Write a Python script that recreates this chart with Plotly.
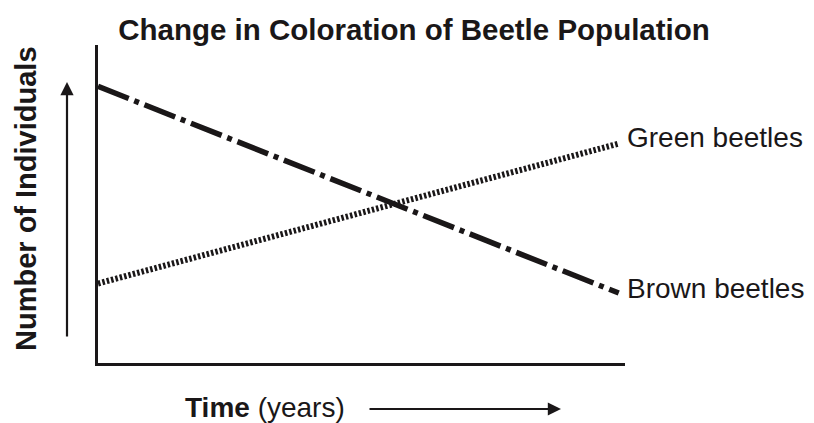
import plotly.graph_objects as go

# Data
time = [0, 10]
brown_beetles = [87, 22]
green_beetles = [25, 69]
series_names = ["Brown beetles", "Green beetles"]
title_text = "Change in Coloration of Beetle Population"
y_label = "Number of Individuals"

INK = "#1a1718"
FONT = "Liberation Sans, Arial, Helvetica, sans-serif"

OFF = 8  # page body margin in the browser
W, H = 814 - OFF, 423 - OFF
# plot area in screenshot pixels: x 98..625, y 45..363
L = 98 - OFF
T = 45 - OFF
R = W - (625 - OFF)
B = H - (363 - OFF)
PW, PH = W - L - R, H - T - B


def px_to_paper(x, y):
    # x, y are screenshot pixels
    return (x - OFF - L) / PW, (H - B - (y - OFF)) / PH


fig = go.Figure()
fig.add_trace(go.Scatter(
    x=time, y=brown_beetles, mode="lines", name=series_names[0],
    line=dict(color=INK, width=5.5, dash="33px,6px,5px,6px"),
    hoverinfo="skip"))
fig.add_trace(go.Scatter(
    x=time, y=green_beetles, mode="lines", name=series_names[1],
    line=dict(color=INK, width=6, dash="2.5px,2px"),
    hoverinfo="skip"))

LBL = 28
annotations = []
annotations.append(dict(x=time[-1], y=green_beetles[-1], xref="x", yref="y",
                        text=series_names[1], showarrow=False, xanchor="left",
                        yanchor="middle", xshift=6, yshift=6,
                        font=dict(family=FONT, size=LBL, color=INK)))
annotations.append(dict(x=time[-1], y=brown_beetles[-1], xref="x", yref="y",
                        text=series_names[0], showarrow=False, xanchor="left",
                        yanchor="middle", xshift=6, yshift=5,
                        font=dict(family=FONT, size=LBL, color=INK)))

# Y label
yx, yy = px_to_paper(26, 199)
annotations.append(dict(x=yx, y=yy, xref="paper", yref="paper",
                        text="<b>" + y_label + "</b>", showarrow=False,
                        textangle=-90, xanchor="center", yanchor="middle",
                        font=dict(family=FONT, size=29, color=INK)))
# Y arrow
ax_, ay_ = px_to_paper(67, 82)
annotations.append(dict(x=ax_, y=ay_, xref="paper", yref="paper", text="",
                        showarrow=True, ax=0, ay=256, axref="pixel", ayref="pixel",
                        arrowhead=2, arrowsize=1.2, arrowwidth=2.2, arrowcolor=INK))

# X label
xx, xy = px_to_paper(183, 407)
annotations.append(dict(x=xx, y=xy, xref="paper", yref="paper",
                        text="<b>Time</b> (years)", showarrow=False,
                        xanchor="left", yanchor="middle",
                        font=dict(family=FONT, size=LBL, color=INK)))
# X arrow
bx, by = px_to_paper(561, 409)
annotations.append(dict(x=bx, y=by, xref="paper", yref="paper", text="",
                        showarrow=True, ax=-193, ay=0, axref="pixel", ayref="pixel",
                        arrowhead=2, arrowsize=1.2, arrowwidth=2.2, arrowcolor=INK))

fig.update_layout(
    width=W, height=H,
    margin=dict(l=L, r=R, t=T, b=B, pad=0),
    paper_bgcolor="white", plot_bgcolor="white",
    showlegend=False,
    title=dict(text="<b>" + title_text + "</b>", x=(414 - OFF) / W, xref="container",
               xanchor="center", y=1 - (30 - OFF) / H, yref="container", yanchor="middle",
               font=dict(family=FONT, size=29.5, color=INK)),
    xaxis=dict(range=[0, 10.12], showline=True, linecolor=INK, linewidth=2.5,
               showgrid=False, zeroline=False, showticklabels=False, ticks="",
               fixedrange=True),
    yaxis=dict(range=[0, 100], showline=True, linecolor=INK, linewidth=2.5,
               showgrid=False, zeroline=False, showticklabels=False, ticks="",
               fixedrange=True),
    annotations=annotations,
)

fig.write_html("out.html")
